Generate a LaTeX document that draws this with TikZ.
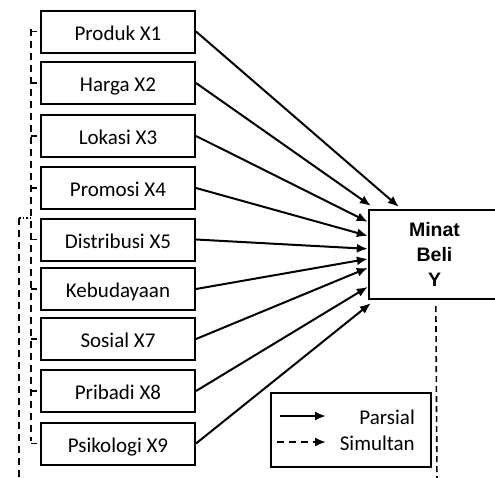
\documentclass[tikz,border=0pt]{standalone}
\usepackage{fontspec}
\setmainfont{Carlito}
\newfontfamily\headfont{Liberation Sans}
\usetikzlibrary{calc,arrows.meta}
\tikzset{
  varbox/.style={draw, line width=2pt, minimum width=154pt, minimum height=42pt,
    inner sep=0pt, font=\fontsize{21}{23}\selectfont, text depth=0pt},
  ybox/.style={draw, line width=2.3pt, minimum width=131pt, minimum height=89pt,
    inner sep=0pt, align=center, font=\headfont\bfseries\fontsize{19.5}{25}\selectfont},
  link/.style={line width=2pt, -{Latex[length=11pt,width=9pt]}},
  simline/.style={line width=1.6pt, dash pattern=on 7pt off 5pt},
  tick/.style={line width=1.6pt},
  legtext/.style={anchor=east, font=\fontsize{21}{23}\selectfont, inner sep=0pt},
}
\begin{document}
\begin{tikzpicture}[x=1pt,y=-1pt]
\useasboundingbox (0,0) rectangle (495,477);
\clip (0,0) rectangle (495,477);

% independent variables
\node[varbox] (b1) at (118,31.5) {\raisebox{-3pt}{Produk X1}};
\node[varbox] (b2) at (118,83)   {\raisebox{-3pt}{Harga X2}};
\node[varbox] (b3) at (118,136)  {\raisebox{-3pt}{Lokasi X3}};
\node[varbox] (b4) at (118,188)  {\raisebox{-3pt}{Promosi X4}};
\node[varbox] (b5) at (118,239.5){\raisebox{-3pt}{Distribusi X5}};
\node[varbox] (b6) at (118,289)  {\raisebox{-3pt}{Kebudayaan}};
\node[varbox] (b7) at (118,339)  {\raisebox{-3pt}{Sosial X7}};
\node[varbox] (b8) at (118,391)  {\raisebox{-3pt}{Pribadi X8}};
\node[varbox] (b9) at (118,443.5){\raisebox{-3pt}{Psikologi X9}};

% dependent variable
\node[ybox] (Y) at (434.5,254.5) {Minat\\Beli\\Y};

% partial effects
\draw[link] (b1.east) -- ($(Y.north west)+(31,-2)$);
\draw[link] (b2.east) -- ($(Y.north west)+(3,-3)$);
\draw[link] (b3.east) -- ($(Y.north west)+(0,13)$);
\draw[link] (b4.east) -- ($(Y.north west)+(0,27)$);
\draw[link] (b5.east) -- ($(Y.north west)+(0,40)$);
\draw[link] (b6.east) -- ($(Y.north west)+(0,50)$);
\draw[link] (b7.east) -- ($(Y.north west)+(0,59)$);
\draw[link] (b8.east) -- ($(Y.north west)+(0,78)$);
\draw[link] (b9.east) -- ($(Y.south west)+(3,3)$);

% simultaneous effect bracket
\coordinate (btop) at (31,29);
\coordinate (bbot) at (31,441);
\draw[simline] (btop) -- (bbot);
\foreach \i in {1,...,9}{
  \draw[tick] (31,0 |- b\i.west) -- ($(b\i.west)+(-3,0)$);
}
\coordinate (otop) at (19,218);
\coordinate (obot) at (19,480);
\draw[simline] (otop) -- (obot);
\draw[line width=1.4pt, dash pattern=on 1.5pt off 2pt] (otop) -- (31,218);
\coordinate (ydash) at (437,480);
\draw[line width=1.6pt, dash pattern=on 6pt off 4pt] ($(Y.south west)+(68,6)$) -- (ydash);

% legend
\node[draw, line width=1.6pt, minimum width=160pt, minimum height=74pt, inner sep=0pt] (leg) at (351,430) {};
\coordinate (p1) at (280,416);
\coordinate (p2) at (326,416);
\coordinate (s1) at (277,442);
\coordinate (s2) at (326,442);
\draw[link] (p1) -- (p2);
\draw[line width=2pt, dash pattern=on 7pt off 5pt, -{Latex[length=11pt,width=9pt]}] (s1) -- (s2);
\node[legtext] (lp) at (415,417) {Parsial};
\node[legtext] (ls) at (415,443) {Simultan};
\end{tikzpicture}
\end{document}
